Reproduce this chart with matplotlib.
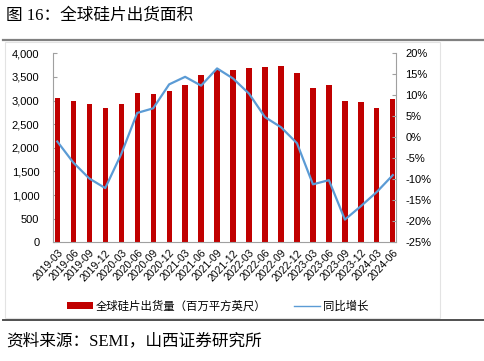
import matplotlib
matplotlib.use("Agg")
import matplotlib.pyplot as plt
import matplotlib.patches as mpatches
import matplotlib.lines as mlines
from matplotlib.ticker import FuncFormatter, MultipleLocator

plt.rcParams['font.family'] = ['Liberation Sans', 'Noto Sans CJK SC', 'DejaVu Sans']

quarters = ["2019-03", "2019-06", "2019-09", "2019-12", "2020-03", "2020-06", "2020-09", "2020-12",
            "2021-03", "2021-06", "2021-09", "2021-12", "2022-03", "2022-06", "2022-09", "2022-12",
            "2023-03", "2023-06", "2023-09", "2023-12", "2024-03", "2024-06"]
shipments = [3051, 2983, 2932, 2844, 2920, 3152, 3135, 3200, 3337, 3534, 3649, 3642,
             3679, 3704, 3741, 3589, 3265, 3331, 2997, 2977, 2834, 3035]
yoy = [-1.0, -6.0, -9.8, -12.1, -4.0, 5.8, 6.9, 12.6, 14.4, 12.3, 16.4, 14.0,
       10.4, 4.8, 2.4, -1.4, -11.2, -10.2, -19.6, -16.4, -13.0, -9.0]

bar_label = "全球硅片出货量（百万平方英尺）"
line_label = "同比增长"
title = "图 16：全球硅片出货面积"
source = "资料来源：SEMI，山西证券研究所"

W, H = 485, 361
fig = plt.figure(figsize=(W / 100, H / 100), dpi=100)

# chart box
fig.patches.append(mpatches.Rectangle((5 / W, 1 - 318 / H), 435 / W, 276 / H,
                                      transform=fig.transFigure, fill=False,
                                      edgecolor="#e3e3e3", linewidth=0.8))
# separator lines
fig.add_artist(mlines.Line2D([3 / W, 1], [1 - 39.5 / H] * 2, color="#808080", linewidth=1.6,
                             transform=fig.transFigure))
fig.add_artist(mlines.Line2D([3 / W, 1], [1 - 319.5 / H] * 2, color="#505050", linewidth=1.4,
                             transform=fig.transFigure))

fig.text(6 / W, 1 - 16 / H, title, fontsize=12, va="center", ha="left",
         family=['Liberation Serif', 'Noto Sans CJK SC'])
fig.text(6 / W, 1 - 341 / H, source, fontsize=12, va="center", ha="left",
         family=['Liberation Serif', 'Noto Sans CJK SC'])

ax = fig.add_axes([53.3 / W, 1 - 242.3 / H, (395.7 - 53.3) / W, (242.3 - 53.3) / H])
x = list(range(len(quarters)))
ax.bar(x, shipments, width=0.33, color="#C00000", label=bar_label, zorder=2)
ax.set_ylim(0, 4000)
ax.set_xlim(-0.25, len(quarters) - 1 + 0.18)
ax.yaxis.set_major_locator(MultipleLocator(500))
ax.yaxis.set_major_formatter(FuncFormatter(lambda v, p: f"{int(v):,}"))
ax.set_xticks(x)
ax.set_xticklabels(quarters, rotation=47, ha="right", rotation_mode="anchor", fontsize=7.5)
ax.tick_params(axis="y", labelsize=8, direction="in", length=3, color="#a0a0a0", pad=10)
ax.tick_params(axis="x", length=0, pad=4)
for s in ["top", "right"]:
    ax.spines[s].set_visible(False)
for s in ["left", "bottom"]:
    ax.spines[s].set_color("#a0a0a0")
    ax.spines[s].set_linewidth(0.8)
ax.patch.set_alpha(0)

ax2 = ax.twinx()
ax2.plot(x, yoy, color="#5B9BD5", linewidth=1.6, label=line_label, zorder=3)
ax2.set_ylim(-25, 20)
ax2.yaxis.set_major_locator(MultipleLocator(5))
ax2.yaxis.set_major_formatter(FuncFormatter(lambda v, p: f"{int(round(v))}%"))
ax2.tick_params(axis="y", labelsize=8, direction="in", length=3, color="#a0a0a0", pad=7)
for s in ["top", "left", "bottom"]:
    ax2.spines[s].set_visible(False)
ax2.spines["right"].set_color("#a0a0a0")
ax2.spines["right"].set_linewidth(0.8)

h1, l1 = ax.get_legend_handles_labels()
line_handle = mlines.Line2D([], [], color="#5B9BD5", linewidth=1.0)
fig.legend(h1 + [line_handle], l1 + [line_label], loc="center",
           bbox_to_anchor=(217.5 / W, 1 - 306 / H), ncol=2,
           frameon=False, handlelength=2.3, handleheight=0.5,
           handletextpad=0.25, columnspacing=2.4,
           prop={'family': ['Noto Sans CJK SC'], 'size': 8.2})

fig.savefig("out.png", dpi=100)
